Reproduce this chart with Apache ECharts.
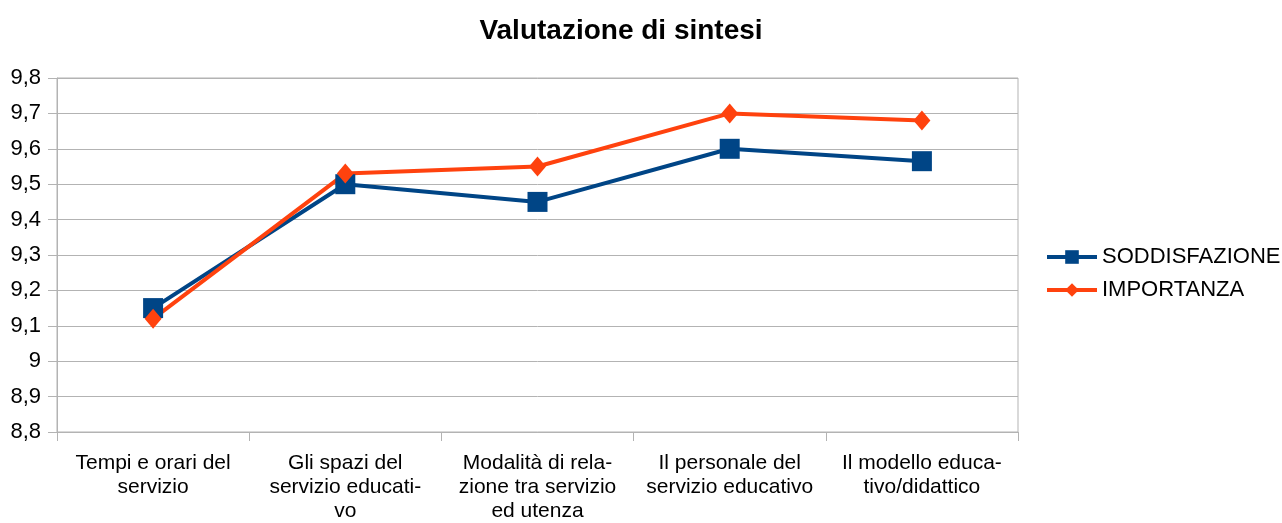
<!DOCTYPE html>
<html>
<head>
<meta charset="utf-8">
<script src="https://cdn.jsdelivr.net/npm/echarts@6/dist/echarts.min.js"></script>
<style>
  html, body { margin: 0; padding: 0; background: #fff; }
  #chart { width: 1282px; height: 523px; }
</style>
</head>
<body>
<div id="chart"></div>
<script>
// categorie (con a capo come nell'originale)
const categories = [
  'Tempi e orari del\nservizio',
  'Gli spazi del\nservizio educati-\nvo',
  'Modalità di rela-\nzione tra servizio\ned utenza',
  'Il personale del\nservizio educativo',
  'Il modello educa-\ntivo/didattico'
]
const soddisfazione = [9.15, 9.50, 9.45, 9.60, 9.565]
const importanza = [9.12, 9.53, 9.55, 9.70, 9.68]

const font = 'Liberation Sans, Arial, sans-serif'
const myChart = echarts.init(document.getElementById('chart'))

const option = {
  animation: false,
  title: {
    text: 'Valutazione di sintesi',
    left: 616,
    top: 12,
    textAlign: 'center',
    textStyle: { fontFamily: font, fontSize: 28, fontWeight: 'bold', color: '#000' }
  },
  legend: {
    orient: 'vertical',
    left: 1040,
    top: 241,
    itemWidth: 50,
    itemHeight: 17,
    itemGap: 11,
    lineStyle: { width: 4 },
    textStyle: { fontFamily: font, fontSize: 22, color: '#000' },
    data: ['SODDISFAZIONE', 'IMPORTANZA']
  },
  grid: {
    left: 57,
    right: 264,
    top: 78,
    bottom: 89,
    show: true,
    borderColor: '#b3b3b3',
    borderWidth: 1
  },
  xAxis: {
    type: 'category',
    data: categories,
    boundaryGap: true,
    axisLine: { lineStyle: { color: '#b3b3b3', width: 1 } },
    axisTick: { show: true, length: 9, lineStyle: { color: '#b3b3b3' } },
    axisLabel: {
      interval: 0,
      margin: 19,
      fontFamily: font,
      fontSize: 21,
      lineHeight: 24,
      color: '#000'
    }
  },
  yAxis: {
    type: 'value',
    min: 8.8,
    max: 9.8,
    interval: 0.1,
    axisLine: { show: true, lineStyle: { color: '#b3b3b3' } },
    axisTick: { show: true, length: 9, lineStyle: { color: '#b3b3b3' } },
    splitLine: { lineStyle: { color: '#b3b3b3' } },
    axisLabel: {
      margin: 16,
      fontFamily: font,
      fontSize: 22,
      color: '#000',
      formatter: (v) => String(Math.round(v * 10) / 10).replace('.', ',')
    }
  },
  series: [
    {
      name: 'SODDISFAZIONE',
      type: 'line',
      data: soddisfazione,
      symbol: 'rect',
      symbolSize: 20,
      lineStyle: { color: '#004586', width: 4 },
      itemStyle: { color: '#004586' }
    },
    {
      name: 'IMPORTANZA',
      type: 'line',
      data: importanza,
      symbol: 'diamond',
      symbolSize: [17, 20],
      lineStyle: { color: '#ff420e', width: 4 },
      itemStyle: { color: '#ff420e' }
    }
  ]
}

myChart.setOption(option)
</script>
</body>
</html>
